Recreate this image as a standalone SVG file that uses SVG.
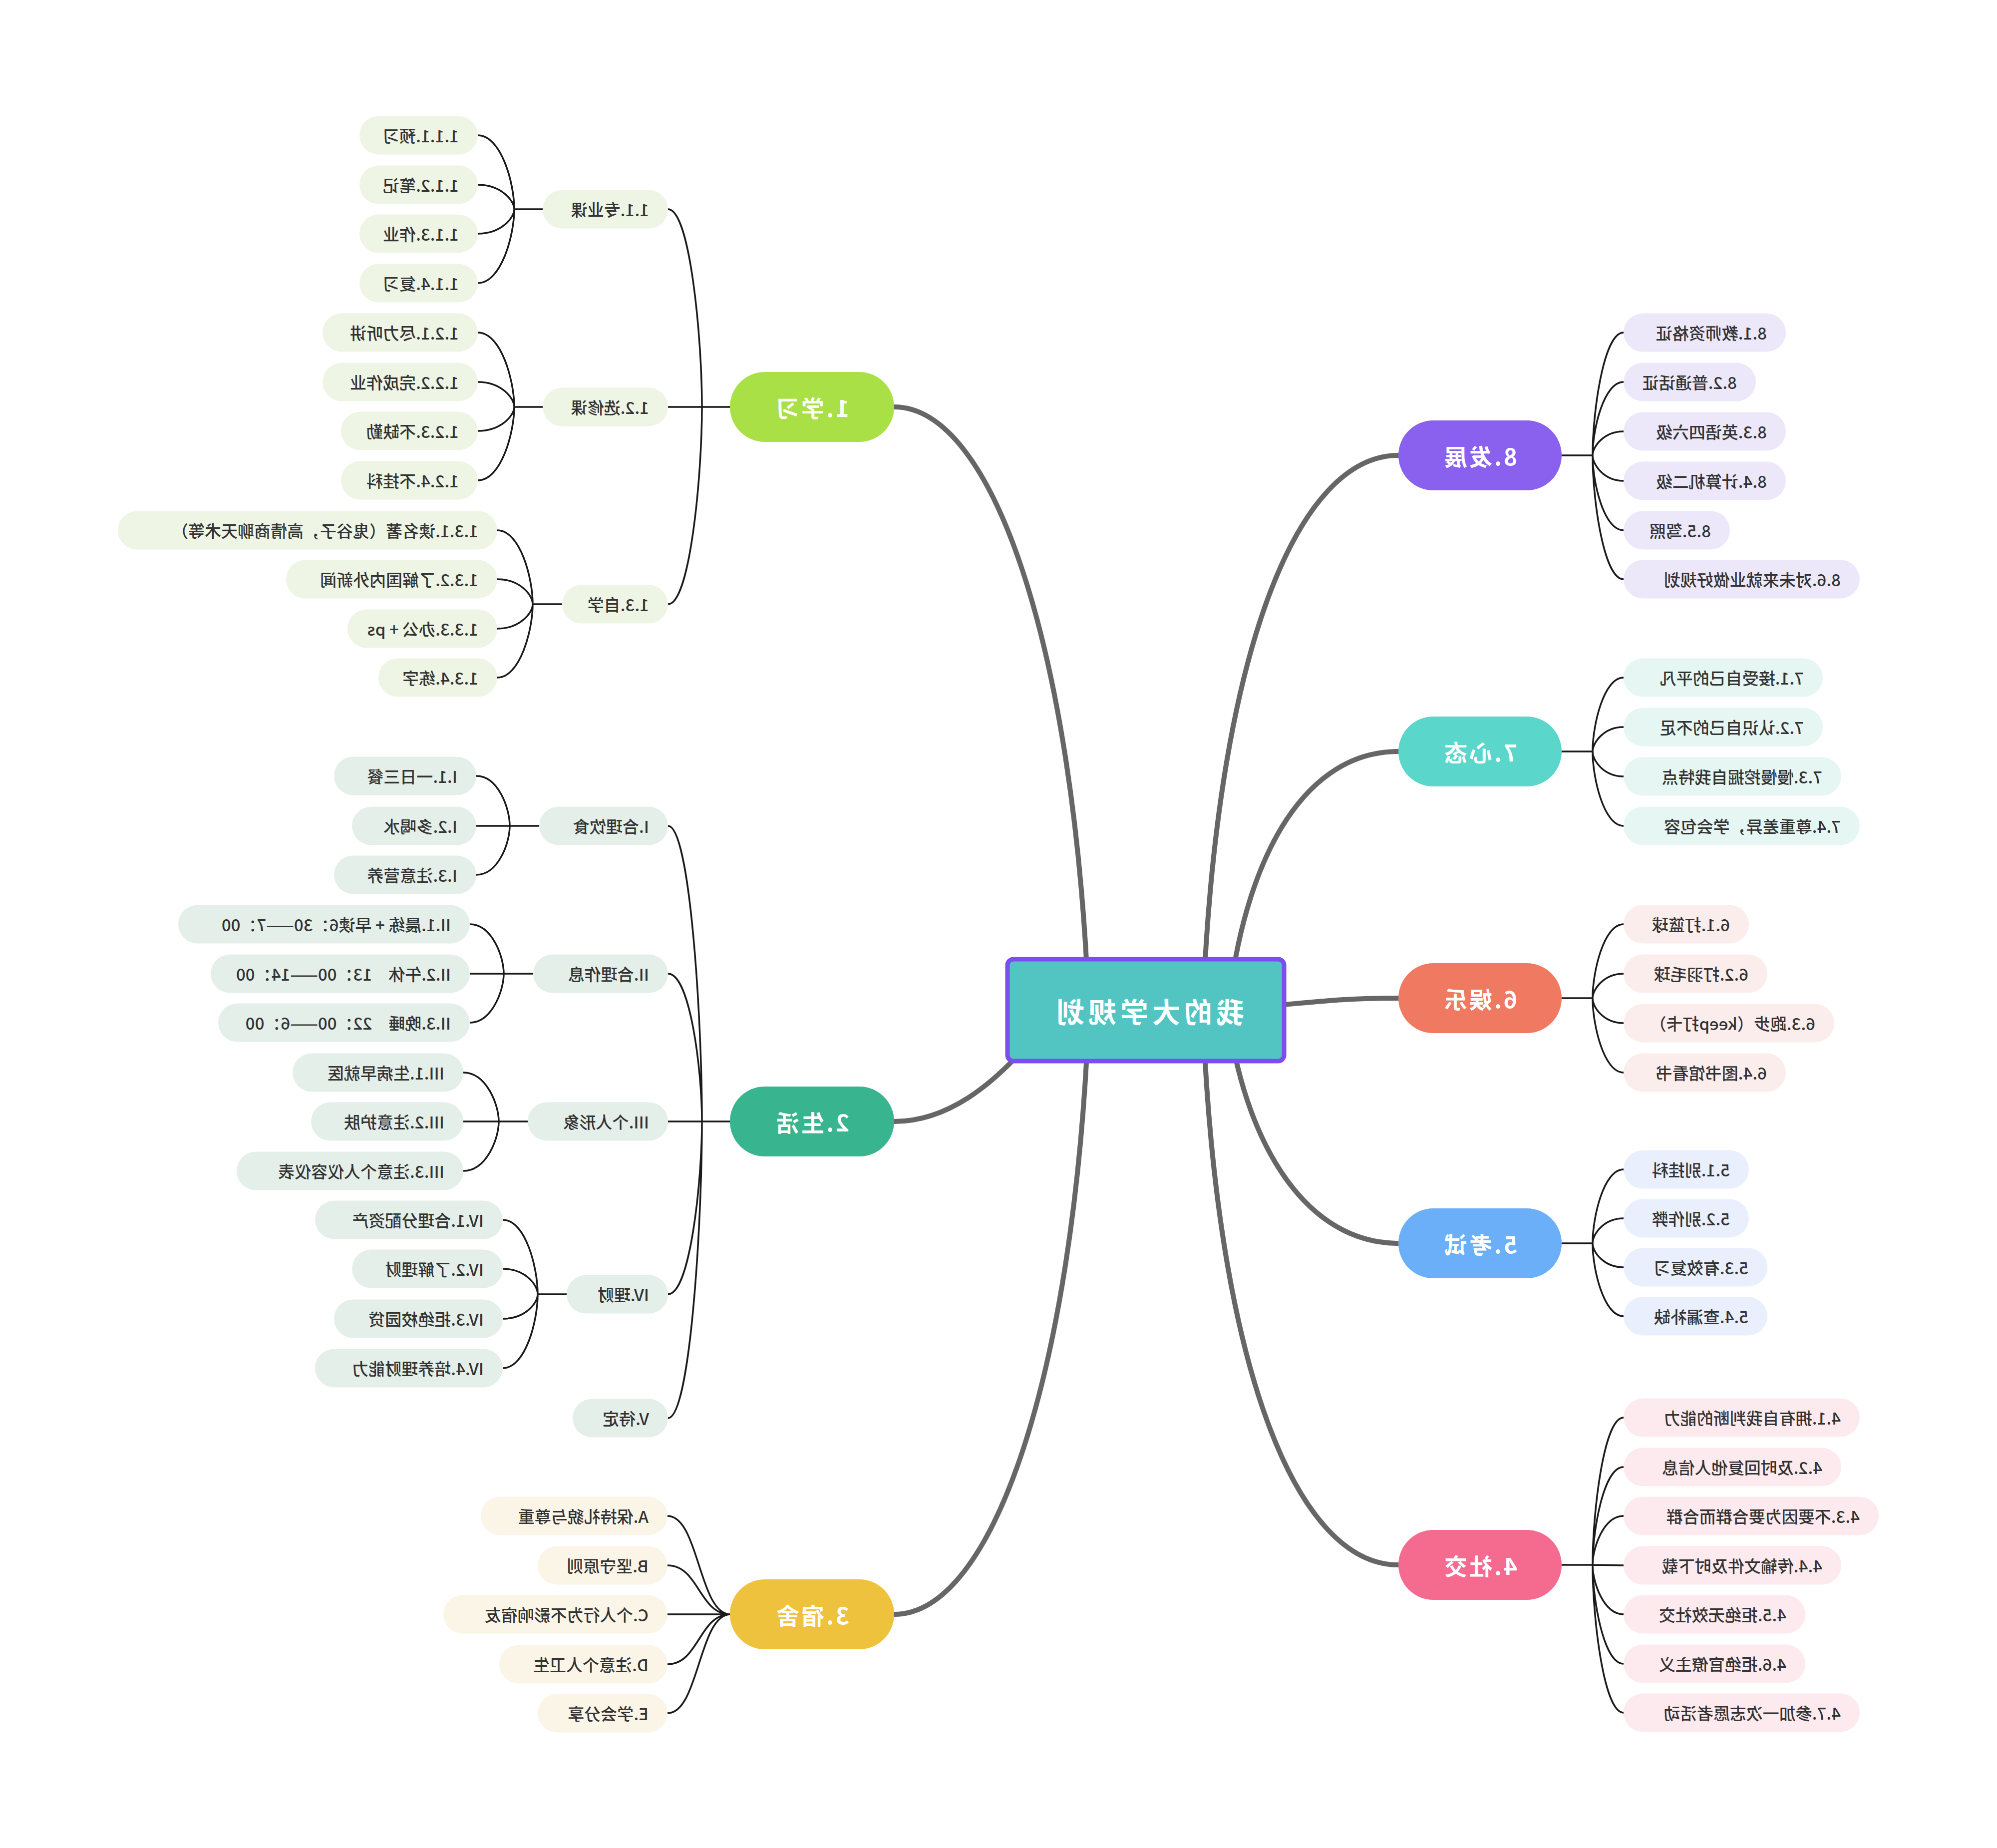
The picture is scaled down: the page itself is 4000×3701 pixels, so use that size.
<svg xmlns="http://www.w3.org/2000/svg" width="4000" height="3701" viewBox="0 0 4000 3701">
<style>
.t{font-family:"Noto Sans CJK SC","Noto Sans",sans-serif;font-size:33px;font-weight:500;fill:#333;dominant-baseline:central;text-anchor:start}
.m{font-family:"Noto Sans CJK SC","Noto Sans",sans-serif;font-size:46px;font-weight:bold;fill:#fff;dominant-baseline:central;text-anchor:middle;letter-spacing:4px}
.c{font-family:"Noto Sans CJK SC","Noto Sans",sans-serif;font-size:56px;font-weight:bold;fill:#fff;dominant-baseline:central;text-anchor:middle;letter-spacing:8px}
.big{fill:none;stroke:#666;stroke-width:10;stroke-linecap:round}
.thin{fill:none;stroke:#1a1a1a;stroke-width:3.5}
.b1{fill:#EEF5E5}.b2{fill:#E5EFEA}.b3{fill:#FBF5E8}.b8{fill:#ECE8FA}.b7{fill:#E5F6F3}.b6{fill:#FCEDED}.b5{fill:#E9EFFC}.b4{fill:#FDEAEE}
</style>
<rect width="4000" height="3701" fill="#fff"/>
<g id="connectors">
<g class="big">
<path d="M2180,2000 C2150,1300 1990,815 1791,815"/>
<path d="M2060,2090 C1990,2170 1900,2246 1791,2246"/>
<path d="M2180,2050 C2150,2750 1990,3233 1791,3233"/>
<path d="M2410,2000 C2440,1300 2600,912 2801,912"/>
<path d="M2462,2000 C2500,1700 2620,1505 2801,1505"/>
<path d="M2560,2013 C2650,2005 2700,1999 2801,1999"/>
<path d="M2462,2050 C2500,2300 2620,2490 2801,2490"/>
<path d="M2410,2050 C2440,2750 2600,3134 2801,3134"/>
</g>
<g class="thin">
<path d="M1462,815 L1406,815 M1406,815 C1406,676 1382,419 1338,419 M1406,815 L1338,815 M1406,815 C1406,953 1382,1210 1338,1210"/>
<path d="M1087,419 L1030,419 M1030,419 C1030,367 1004,271 957,271 M1030,419 C1030,402 1004,370 957,370 M1030,419 C1030,436 1004,468 957,468 M1030,419 C1030,471 1004,567 957,567"/>
<path d="M1087,815 L1030,815 M1030,815 C1030,763 1004,666 957,666 M1030,815 C1030,797 1004,765 957,765 M1030,815 C1030,832 1004,863 957,863 M1030,815 C1030,866 1004,962 957,962"/>
<path d="M1126,1210 L1067,1210 M1067,1210 C1067,1158 1042,1062 996,1062 M1067,1210 C1067,1192 1042,1160 996,1160 M1067,1210 C1067,1227 1042,1259 996,1259 M1067,1210 C1067,1261 1042,1357 996,1357"/>
<path d="M1462,2246 L1406,2246 M1406,2246 C1406,2039 1382,1654 1338,1654 M1406,2246 C1406,2142 1382,1950 1338,1950 M1406,2246 L1338,2246 M1406,2246 C1406,2367 1382,2592 1338,2592 M1406,2246 C1406,2454 1382,2840 1338,2840"/>
<path d="M1080,1654 L1021,1654 M1021,1654 C1021,1619 998,1554 954,1554 M1021,1654 L954,1654 M1021,1654 C1021,1688 998,1752 954,1752"/>
<path d="M1068,1950 L1009,1950 M1009,1950 C1009,1915 985,1851 941,1851 M1009,1950 L941,1950 M1009,1950 C1009,1984 985,2048 941,2048"/>
<path d="M1057,2246 L999,2246 M999,2246 C999,2212 974,2148 928,2148 M999,2246 L928,2246 M999,2246 C999,2281 974,2345 928,2345"/>
<path d="M1135,2592 L1077,2592 M1077,2592 C1077,2540 1053,2443 1007,2443 M1077,2592 C1077,2574 1053,2541 1007,2541 M1077,2592 C1077,2609 1053,2641 1007,2641 M1077,2592 C1077,2644 1053,2740 1007,2740"/>
<path d="M1337,3036 C1400,3036 1400,3233 1463,3233 M1337,3135 C1400,3135 1400,3233 1463,3233 M1337,3233 L1463,3233 M1337,3333 C1400,3333 1400,3233 1463,3233 M1337,3431 C1400,3431 1400,3233 1463,3233"/>
<path d="M3128,912 L3190,912 M3190,912 C3190,826 3212,666 3252,666 M3190,912 C3190,861 3212,765 3252,765 M3190,912 C3190,895 3212,864 3252,864 M3190,912 C3190,930 3212,963 3252,963 M3190,912 C3190,965 3212,1062 3252,1062 M3190,912 C3190,999 3212,1160 3252,1160"/>
<path d="M3128,1505 L3190,1505 M3190,1505 C3190,1453 3212,1357 3252,1357 M3190,1505 C3190,1488 3212,1456 3252,1456 M3190,1505 C3190,1523 3212,1555 3252,1555 M3190,1505 C3190,1557 3212,1654 3252,1654"/>
<path d="M3128,1999 L3190,1999 M3190,1999 C3190,1947 3212,1851 3252,1851 M3190,1999 C3190,1982 3212,1950 3252,1950 M3190,1999 C3190,2017 3212,2049 3252,2049 M3190,1999 C3190,2051 3212,2148 3252,2148"/>
<path d="M3128,2490 L3190,2490 M3190,2490 C3190,2438 3212,2342 3252,2342 M3190,2490 C3190,2472 3212,2440 3252,2440 M3190,2490 C3190,2507 3212,2538 3252,2538 M3190,2490 C3190,2541 3212,2636 3252,2636"/>
<path d="M3128,3134 L3190,3134 M3190,3134 C3190,3031 3212,2839 3252,2839 M3190,3134 C3190,3065 3212,2938 3252,2938 M3190,3134 C3190,3100 3212,3036 3252,3036 M3190,3134 L3252,3135 M3190,3134 C3190,3169 3212,3233 3252,3233 M3190,3134 C3190,3203 3212,3332 3252,3332 M3190,3134 C3190,3238 3212,3430 3252,3430"/>
</g>
</g>
<g id="center"><rect x="2018" y="1921" width="554" height="204" rx="12" fill="#52C5C3" stroke="#7C4DEF" stroke-width="9"/><text class="c" transform="scale(-1,1)" x="-2300" y="2023">我的大学规划</text></g>
<g id="n1"><rect x="1462" y="745" width="329" height="140" rx="70" fill="#A9E045"/><text class="m" transform="scale(-1,1)" x="-1626" y="815">1.学习</text></g>
<g id="n2"><rect x="1462" y="2176" width="329" height="140" rx="70" fill="#38B58E"/><text class="m" transform="scale(-1,1)" x="-1626" y="2246">2.生活</text></g>
<g id="n3"><rect x="1462" y="3163" width="329" height="140" rx="70" fill="#EEC23D"/><text class="m" transform="scale(-1,1)" x="-1626" y="3233">3.宿舍</text></g>
<g id="n8"><rect x="2801" y="842" width="327" height="140" rx="70" fill="#8A60EE"/><text class="m" transform="scale(-1,1)" x="-2964" y="912">8.发展</text></g>
<g id="n7"><rect x="2801" y="1435" width="327" height="140" rx="70" fill="#5BD6CB"/><text class="m" transform="scale(-1,1)" x="-2964" y="1505">7.心态</text></g>
<g id="n6"><rect x="2801" y="1929" width="327" height="140" rx="70" fill="#F07962"/><text class="m" transform="scale(-1,1)" x="-2964" y="1999">6.娱乐</text></g>
<g id="n5"><rect x="2801" y="2420" width="327" height="140" rx="70" fill="#6AAFF7"/><text class="m" transform="scale(-1,1)" x="-2964" y="2490">5.考试</text></g>
<g id="n4"><rect x="2801" y="3064" width="327" height="140" rx="70" fill="#F56B90"/><text class="m" transform="scale(-1,1)" x="-2964" y="3134">4.社交</text></g>

<g id="n1-1"><rect class="b1" x="1087" y="380.5" width="251" height="77" rx="38.5"/><text class="t" transform="scale(-1,1)" x="-1300" y="419">1.1.专业课</text></g>
<g id="n1-2"><rect class="b1" x="1087" y="776.5" width="251" height="77" rx="38.5"/><text class="t" transform="scale(-1,1)" x="-1300" y="815">1.2.选修课</text></g>
<g id="n1-3"><rect class="b1" x="1126" y="1171.5" width="212" height="77" rx="38.5"/><text class="t" transform="scale(-1,1)" x="-1300" y="1210">1.3.自学</text></g>
<g id="n1-1-1"><rect class="b1" x="720" y="232.5" width="237" height="77" rx="38.5"/><text class="t" transform="scale(-1,1)" x="-919" y="271">1.1.1.预习</text></g>
<g id="n1-1-2"><rect class="b1" x="720" y="331.5" width="237" height="77" rx="38.5"/><text class="t" transform="scale(-1,1)" x="-919" y="370">1.1.2.笔记</text></g>
<g id="n1-1-3"><rect class="b1" x="720" y="429.5" width="237" height="77" rx="38.5"/><text class="t" transform="scale(-1,1)" x="-919" y="468">1.1.3.作业</text></g>
<g id="n1-1-4"><rect class="b1" x="720" y="528.5" width="237" height="77" rx="38.5"/><text class="t" transform="scale(-1,1)" x="-919" y="567">1.1.4.复习</text></g>
<g id="n1-2-1"><rect class="b1" x="646" y="627.5" width="311" height="77" rx="38.5"/><text class="t" transform="scale(-1,1)" x="-919" y="666">1.2.1.尽力听讲</text></g>
<g id="n1-2-2"><rect class="b1" x="646" y="726.5" width="311" height="77" rx="38.5"/><text class="t" transform="scale(-1,1)" x="-919" y="765">1.2.2.完成作业</text></g>
<g id="n1-2-3"><rect class="b1" x="683" y="824.5" width="274" height="77" rx="38.5"/><text class="t" transform="scale(-1,1)" x="-919" y="863">1.2.3.不缺勤</text></g>
<g id="n1-2-4"><rect class="b1" x="683" y="923.5" width="274" height="77" rx="38.5"/><text class="t" transform="scale(-1,1)" x="-919" y="962">1.2.4.不挂科</text></g>
<g id="n1-3-1"><rect class="b1" x="236" y="1023.5" width="760" height="77" rx="38.5"/><text class="t" transform="scale(-1,1)" x="-958" y="1062">1.3.1.读名著（鬼谷子，高情商聊天术等）</text></g>
<g id="n1-3-2"><rect class="b1" x="573" y="1121.5" width="423" height="77" rx="38.5"/><text class="t" transform="scale(-1,1)" x="-958" y="1160">1.3.2.了解国内外新闻</text></g>
<g id="n1-3-3"><rect class="b1" x="696" y="1220.5" width="300" height="77" rx="38.5"/><text class="t" transform="scale(-1,1)" x="-958" y="1259">1.3.3.办公 + ps</text></g>
<g id="n1-3-4"><rect class="b1" x="758" y="1318.5" width="238" height="77" rx="38.5"/><text class="t" transform="scale(-1,1)" x="-958" y="1357">1.3.4.练字</text></g>

<g id="n2-1"><rect class="b2" x="1080" y="1615.5" width="258" height="77" rx="38.5"/><text class="t" transform="scale(-1,1)" x="-1300" y="1654">I.合理饮食</text></g>
<g id="n2-2"><rect class="b2" x="1068" y="1911.5" width="270" height="77" rx="38.5"/><text class="t" transform="scale(-1,1)" x="-1300" y="1950">II.合理作息</text></g>
<g id="n2-3"><rect class="b2" x="1057" y="2207.5" width="281" height="77" rx="38.5"/><text class="t" transform="scale(-1,1)" x="-1300" y="2246">III.个人形象</text></g>
<g id="n2-4"><rect class="b2" x="1135" y="2553.5" width="203" height="77" rx="38.5"/><text class="t" transform="scale(-1,1)" x="-1300" y="2592">IV.理财</text></g>
<g id="n2-5"><rect class="b2" x="1147" y="2801.5" width="191" height="77" rx="38.5"/><text class="t" transform="scale(-1,1)" x="-1300" y="2840">V.待定</text></g>
<g id="n2-1-1"><rect class="b2" x="669" y="1515.5" width="285" height="77" rx="38.5"/><text class="t" transform="scale(-1,1)" x="-916" y="1554">I.1.一日三餐</text></g>
<g id="n2-1-2"><rect class="b2" x="705" y="1615.5" width="249" height="77" rx="38.5"/><text class="t" transform="scale(-1,1)" x="-916" y="1654">I.2.多喝水</text></g>
<g id="n2-1-3"><rect class="b2" x="669" y="1713.5" width="285" height="77" rx="38.5"/><text class="t" transform="scale(-1,1)" x="-916" y="1752">I.3.注意营养</text></g>
<g id="n2-2-1"><rect class="b2" x="357" y="1812.5" width="584" height="77" rx="38.5"/><text class="t" transform="scale(-1,1)" x="-903" y="1851">II.1.晨练 + 早读6：30——7：00</text></g>
<g id="n2-2-2"><rect class="b2" x="422" y="1911.5" width="519" height="77" rx="38.5"/><text class="t" transform="scale(-1,1)" x="-903" y="1950">II.2.午休　13：00——14：00</text></g>
<g id="n2-2-3"><rect class="b2" x="437" y="2009.5" width="504" height="77" rx="38.5"/><text class="t" transform="scale(-1,1)" x="-903" y="2048">II.3.晚睡　22：00——6：00</text></g>
<g id="n2-3-1"><rect class="b2" x="586" y="2109.5" width="342" height="77" rx="38.5"/><text class="t" transform="scale(-1,1)" x="-890" y="2148">III.1.生病早就医</text></g>
<g id="n2-3-2"><rect class="b2" x="623" y="2207.5" width="305" height="77" rx="38.5"/><text class="t" transform="scale(-1,1)" x="-890" y="2246">III.2.注意护肤</text></g>
<g id="n2-3-3"><rect class="b2" x="474" y="2306.5" width="454" height="77" rx="38.5"/><text class="t" transform="scale(-1,1)" x="-890" y="2345">III.3.注意个人仪容仪表</text></g>
<g id="n2-4-1"><rect class="b2" x="631" y="2404.5" width="376" height="77" rx="38.5"/><text class="t" transform="scale(-1,1)" x="-969" y="2443">IV.1.合理分配资产</text></g>
<g id="n2-4-2"><rect class="b2" x="705" y="2502.5" width="302" height="77" rx="38.5"/><text class="t" transform="scale(-1,1)" x="-969" y="2541">IV.2.了解理财</text></g>
<g id="n2-4-3"><rect class="b2" x="669" y="2602.5" width="338" height="77" rx="38.5"/><text class="t" transform="scale(-1,1)" x="-969" y="2641">IV.3.拒绝校园贷</text></g>
<g id="n2-4-4"><rect class="b2" x="631" y="2701.5" width="376" height="77" rx="38.5"/><text class="t" transform="scale(-1,1)" x="-969" y="2740">IV.4.培养理财能力</text></g>

<g id="n3-1"><rect class="b3" x="963" y="2997.5" width="374" height="77" rx="38.5"/><text class="t" transform="scale(-1,1)" x="-1299" y="3036">A.保持礼貌与尊重</text></g>
<g id="n3-2"><rect class="b3" x="1077" y="3096.5" width="260" height="77" rx="38.5"/><text class="t" transform="scale(-1,1)" x="-1299" y="3135">B.坚守原则</text></g>
<g id="n3-3"><rect class="b3" x="888" y="3194.5" width="449" height="77" rx="38.5"/><text class="t" transform="scale(-1,1)" x="-1299" y="3233">C.个人行为不影响宿友</text></g>
<g id="n3-4"><rect class="b3" x="1000" y="3294.5" width="337" height="77" rx="38.5"/><text class="t" transform="scale(-1,1)" x="-1299" y="3333">D.注意个人卫生</text></g>
<g id="n3-5"><rect class="b3" x="1077" y="3392.5" width="260" height="77" rx="38.5"/><text class="t" transform="scale(-1,1)" x="-1299" y="3431">E.学会分享</text></g>

<g id="n8-1"><rect class="b8" x="3252" y="627.5" width="325" height="77" rx="38.5"/><text class="t" transform="scale(-1,1)" x="-3539" y="666">8.1.教师资格证</text></g>
<g id="n8-2"><rect class="b8" x="3252" y="726.5" width="265" height="77" rx="38.5"/><text class="t" transform="scale(-1,1)" x="-3479" y="765">8.2.普通话证</text></g>
<g id="n8-3"><rect class="b8" x="3252" y="825.5" width="325" height="77" rx="38.5"/><text class="t" transform="scale(-1,1)" x="-3539" y="864">8.3.英语四六级</text></g>
<g id="n8-4"><rect class="b8" x="3252" y="924.5" width="325" height="77" rx="38.5"/><text class="t" transform="scale(-1,1)" x="-3539" y="963">8.4.计算机二级</text></g>
<g id="n8-5"><rect class="b8" x="3252" y="1023.5" width="213" height="77" rx="38.5"/><text class="t" transform="scale(-1,1)" x="-3427" y="1062">8.5.驾照</text></g>
<g id="n8-6"><rect class="b8" x="3252" y="1121.5" width="473" height="77" rx="38.5"/><text class="t" transform="scale(-1,1)" x="-3687" y="1160">8.6.对未来就业做好规划</text></g>

<g id="n7-1"><rect class="b7" x="3252" y="1318.5" width="399" height="77" rx="38.5"/><text class="t" transform="scale(-1,1)" x="-3613" y="1357">7.1.接受自己的平凡</text></g>
<g id="n7-2"><rect class="b7" x="3252" y="1417.5" width="399" height="77" rx="38.5"/><text class="t" transform="scale(-1,1)" x="-3613" y="1456">7.2.认识自己的不足</text></g>
<g id="n7-3"><rect class="b7" x="3252" y="1516.5" width="436" height="77" rx="38.5"/><text class="t" transform="scale(-1,1)" x="-3650" y="1555">7.3.慢慢挖掘自我特点</text></g>
<g id="n7-4"><rect class="b7" x="3252" y="1615.5" width="473" height="77" rx="38.5"/><text class="t" transform="scale(-1,1)" x="-3687" y="1654">7.4.尊重差异，学会包容</text></g>

<g id="n6-1"><rect class="b6" x="3252" y="1812.5" width="251" height="77" rx="38.5"/><text class="t" transform="scale(-1,1)" x="-3465" y="1851">6.1.打篮球</text></g>
<g id="n6-2"><rect class="b6" x="3252" y="1911.5" width="288" height="77" rx="38.5"/><text class="t" transform="scale(-1,1)" x="-3502" y="1950">6.2.打羽毛球</text></g>
<g id="n6-3"><rect class="b6" x="3252" y="2010.5" width="422" height="77" rx="38.5"/><text class="t" transform="scale(-1,1)" x="-3636" y="2049">6.3.跑步（keep打卡）</text></g>
<g id="n6-4"><rect class="b6" x="3252" y="2109.5" width="325" height="77" rx="38.5"/><text class="t" transform="scale(-1,1)" x="-3539" y="2148">6.4.图书馆看书</text></g>

<g id="n5-1"><rect class="b5" x="3252" y="2303.5" width="251" height="77" rx="38.5"/><text class="t" transform="scale(-1,1)" x="-3465" y="2342">5.1.别挂科</text></g>
<g id="n5-2"><rect class="b5" x="3252" y="2401.5" width="251" height="77" rx="38.5"/><text class="t" transform="scale(-1,1)" x="-3465" y="2440">5.2.别作弊</text></g>
<g id="n5-3"><rect class="b5" x="3252" y="2499.5" width="288" height="77" rx="38.5"/><text class="t" transform="scale(-1,1)" x="-3502" y="2538">5.3.有效复习</text></g>
<g id="n5-4"><rect class="b5" x="3252" y="2597.5" width="288" height="77" rx="38.5"/><text class="t" transform="scale(-1,1)" x="-3502" y="2636">5.4.查漏补缺</text></g>

<g id="n4-1"><rect class="b4" x="3252" y="2800.5" width="473" height="77" rx="38.5"/><text class="t" transform="scale(-1,1)" x="-3687" y="2839">4.1.拥有自我判断的能力</text></g>
<g id="n4-2"><rect class="b4" x="3252" y="2899.5" width="436" height="77" rx="38.5"/><text class="t" transform="scale(-1,1)" x="-3650" y="2938">4.2.及时回复他人信息</text></g>
<g id="n4-3"><rect class="b4" x="3252" y="2997.5" width="511" height="77" rx="38.5"/><text class="t" transform="scale(-1,1)" x="-3725" y="3036">4.3.不要因为要合群而合群</text></g>
<g id="n4-4"><rect class="b4" x="3252" y="3096.5" width="436" height="77" rx="38.5"/><text class="t" transform="scale(-1,1)" x="-3650" y="3135">4.4.传输文件及时下载</text></g>
<g id="n4-5"><rect class="b4" x="3252" y="3194.5" width="364" height="77" rx="38.5"/><text class="t" transform="scale(-1,1)" x="-3578" y="3233">4.5.拒绝无效社交</text></g>
<g id="n4-6"><rect class="b4" x="3252" y="3293.5" width="364" height="77" rx="38.5"/><text class="t" transform="scale(-1,1)" x="-3578" y="3332">4.6.拒绝官僚主义</text></g>
<g id="n4-7"><rect class="b4" x="3252" y="3391.5" width="473" height="77" rx="38.5"/><text class="t" transform="scale(-1,1)" x="-3687" y="3430">4.7.参加一次志愿者活动</text></g>
</svg>
